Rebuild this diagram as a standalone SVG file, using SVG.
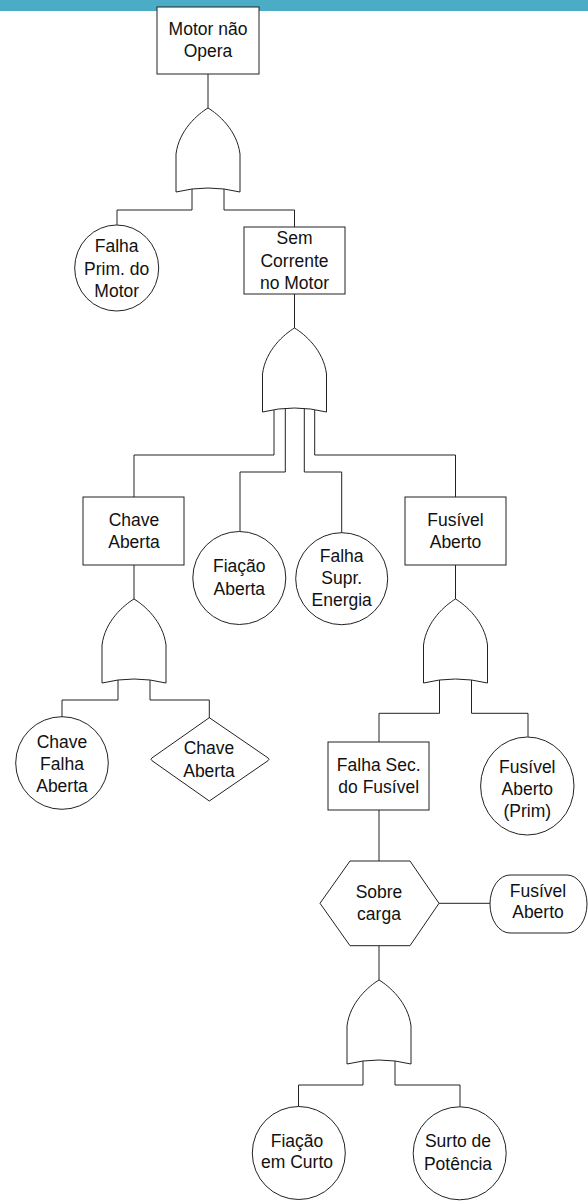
<svg xmlns="http://www.w3.org/2000/svg" xmlns:xlink="http://www.w3.org/1999/xlink" width="588" height="1203" viewBox="0 0 588 1203">
  <style>
    .n { fill: #ffffff; stroke: #222222; stroke-width: 1; }
    .c { fill: none; stroke: #222222; stroke-width: 1; }
    .t { font-family: "Liberation Sans", Arial, sans-serif; font-size: 17.5px; text-anchor: middle; fill: #111111; }
  </style>
  <defs>
    <!-- OR gate, origin at the output apex -->
    <path id="or" class="n" d="M0,0 C-10,6 -29,22 -32,46 L-32,84 Q0,76 32,84 L32,46 C29,22 10,6 0,0 Z"/>
  </defs>

  <!-- header band -->
  <rect x="0" y="0" width="588" height="11" fill="#4BACC6"/>

  <!-- connectors -->
  <g id="connectors" class="c">
    <path d="M208,74 V108"/>
    <path d="M192,189 V210 H117 V225"/>
    <path d="M224,189 V210 H294.5 V227"/>
    <path d="M294.5,294 V328"/>
    <path d="M274,410 V455 H134 V497"/>
    <path d="M285.3,408 V472 H240 V532"/>
    <path d="M304.3,408 V472 H341.7 V533"/>
    <path d="M314.7,410 V455 H455.5 V497"/>
    <path d="M134,565 V599"/>
    <path d="M118,680 V700 H62 V717"/>
    <path d="M150,680 V700 H209.3 V718"/>
    <path d="M455.5,565 V599"/>
    <path d="M439.5,680 V713.3 H379 V742"/>
    <path d="M471.5,680 V713.3 H528 V737"/>
    <path d="M379,810 V861"/>
    <path d="M439,903.3 H490"/>
    <path d="M379,945.7 V980"/>
    <path d="M363,1061 V1085 H298.5 V1106"/>
    <path d="M395,1061 V1085 H460 V1107"/>
  </g>

  <!-- top event -->
  <g id="motor-nao-opera">
    <rect class="n" x="157" y="7" width="102" height="67"/>
    <text class="t" x="208" y="35">Motor não</text>
    <text class="t" x="208" y="57">Opera</text>
  </g>

  <g id="gate-1"><use xlink:href="#or" href="#or" x="208" y="108"/></g>

  <g id="falha-prim-motor">
    <ellipse class="n" cx="116.7" cy="268" rx="42" ry="43"/>
    <text class="t" x="116.7" y="252.3">Falha</text>
    <text class="t" x="116.7" y="275">Prim. do</text>
    <text class="t" x="116.7" y="297">Motor</text>
  </g>

  <g id="sem-corrente">
    <rect class="n" x="244" y="227" width="101" height="67"/>
    <text class="t" x="294.5" y="244">Sem</text>
    <text class="t" x="294.5" y="266.7">Corrente</text>
    <text class="t" x="294.5" y="289.3">no Motor</text>
  </g>

  <g id="gate-2"><use xlink:href="#or" href="#or" x="294.5" y="328"/></g>

  <g id="chave-aberta">
    <rect class="n" x="83" y="497" width="101" height="68"/>
    <text class="t" x="134" y="525.7">Chave</text>
    <text class="t" x="134" y="548.3">Aberta</text>
  </g>

  <g id="fiacao-aberta">
    <circle class="n" cx="239.3" cy="578" r="46.5"/>
    <text class="t" x="239.3" y="572.3">Fiação</text>
    <text class="t" x="239.3" y="595">Aberta</text>
  </g>

  <g id="falha-supr-energia">
    <circle class="n" cx="341.7" cy="578.7" r="46"/>
    <text class="t" x="341.7" y="561.7">Falha</text>
    <text class="t" x="341.7" y="584.3">Supr.</text>
    <text class="t" x="341.7" y="606">Energia</text>
  </g>

  <g id="fusivel-aberto">
    <rect class="n" x="405" y="497" width="101" height="68"/>
    <text class="t" x="455.5" y="525.7">Fusível</text>
    <text class="t" x="455.5" y="548.3">Aberto</text>
  </g>

  <g id="gate-3"><use xlink:href="#or" href="#or" x="134" y="599"/></g>
  <g id="gate-4"><use xlink:href="#or" href="#or" x="455.5" y="599"/></g>

  <g id="chave-falha-aberta">
    <circle class="n" cx="62" cy="763" r="46.3"/>
    <text class="t" x="62" y="747.7">Chave</text>
    <text class="t" x="62" y="770">Falha</text>
    <text class="t" x="62" y="791.7">Aberta</text>
  </g>

  <g id="chave-aberta-nd">
    <path class="n" d="M209.3,717.7 L268,757.9 Q270,759.3 268,760.7 L209.3,801 L152,760.7 Q150,759.3 152,757.9 Z"/>
    <text class="t" x="209" y="754.3">Chave</text>
    <text class="t" x="209" y="776.7">Aberta</text>
  </g>

  <g id="falha-sec-fusivel">
    <rect class="n" x="328" y="742" width="101" height="68"/>
    <text class="t" x="378.7" y="771">Falha Sec.</text>
    <text class="t" x="378.7" y="793.3">do Fusível</text>
  </g>

  <g id="fusivel-aberto-prim">
    <ellipse class="n" cx="527.3" cy="786" rx="46.7" ry="49"/>
    <text class="t" x="527.3" y="772.7">Fusível</text>
    <text class="t" x="527.3" y="795">Aberto</text>
    <text class="t" x="527.3" y="817">(Prim)</text>
  </g>

  <g id="sobrecarga">
    <polygon class="n" points="350,861 410,861 439,903.3 410,945.7 350,945.7 320,903.3"/>
    <text class="t" x="379" y="898.3">Sobre</text>
    <text class="t" x="379" y="919.5">carga</text>
  </g>

  <g id="fusivel-aberto-cond">
    <rect class="n" x="490" y="875" width="97" height="58" rx="20" ry="29"/>
    <text class="t" x="538" y="896.7">Fusível</text>
    <text class="t" x="538" y="918.3">Aberto</text>
  </g>

  <g id="gate-5"><use xlink:href="#or" href="#or" x="379" y="980"/></g>

  <g id="fiacao-em-curto">
    <circle class="n" cx="298.8" cy="1153" r="46.5"/>
    <text class="t" x="297" y="1146.7">Fiação</text>
    <text class="t" x="297" y="1168.3">em Curto</text>
  </g>

  <g id="surto-de-potencia">
    <circle class="n" cx="459.7" cy="1153.3" r="46.5"/>
    <text class="t" x="458" y="1146.7">Surto de</text>
    <text class="t" x="458" y="1170">Potência</text>
  </g>
</svg>
